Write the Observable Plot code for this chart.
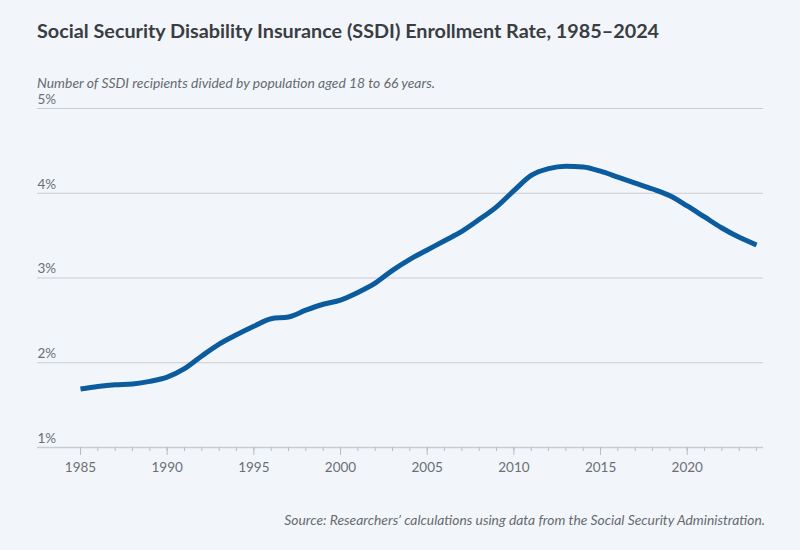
<!DOCTYPE html>
<html>
<head>
<meta charset="utf-8">
<script src="https://cdn.jsdelivr.net/npm/d3@7"></script>
<script src="https://cdn.jsdelivr.net/npm/@observablehq/plot@0.6"></script>
<style>
  html, body { margin: 0; padding: 0; background: #f2f6fa; }
  body { width: 800px; height: 550px; position: relative; overflow: hidden; font-family: Lato, "Noto Sans", sans-serif; }
  #title { position: absolute; left: 37px; top: 18px; font-size: 19.8px; font-weight: 700; color: #3a3d42; white-space: nowrap; }
  #subtitle { position: absolute; left: 37px; top: 74px; font-size: 13.9px; font-style: italic; color: #666a70; white-space: nowrap; }
  #caption { position: absolute; right: 35px; top: 511px; font-size: 13.85px; font-style: italic; color: #666a70; white-space: nowrap; }
  #chart { position: absolute; left: 0; top: 90px; }
</style>
</head>
<body>
<div id="title">Social Security Disability Insurance (SSDI) Enrollment Rate, 1985–2024</div>
<div id="subtitle">Number of SSDI recipients divided by population aged 18 to 66 years.</div>
<div id="chart"></div>
<div id="caption">Source: Researchers’ calculations using data from the Social Security Administration.</div>
<script>
const years = d3.range(1985, 2025);
const rates = [
  1.69, 1.72, 1.74, 1.75, 1.78, 1.83, 1.93, 2.08, 2.22, 2.33,
  2.43, 2.52, 2.54, 2.62, 2.69, 2.74, 2.83, 2.94, 3.09, 3.22,
  3.33, 3.44, 3.55, 3.69, 3.84, 4.03, 4.21, 4.29, 4.32, 4.31,
  4.26, 4.19, 4.12, 4.05, 3.97, 3.85, 3.72, 3.59, 3.48, 3.39
];
const yTicks = [1, 2, 3, 4, 5];
const majorYears = [1985, 1990, 1995, 2000, 2005, 2010, 2015, 2020];

const data = years.map((year, i) => ({year, rate: rates[i]}));
const xMin = 1982.52, xMax = 2024.4;

const plot = Plot.plot({
  width: 800,
  height: 400,
  marginLeft: 37,
  marginRight: 37,
  marginTop: 18,
  marginBottom: 43,
  style: {background: "transparent", fontFamily: "Lato, 'Noto Sans', sans-serif", fontSize: "13.5px", color: "#6b6f75"},
  x: {domain: [xMin, xMax], axis: null},
  y: {domain: [1, 5], axis: null},
  marks: [
    Plot.ruleY(yTicks.slice(1), {stroke: "#c9ccd0", strokeWidth: 1}),
    Plot.ruleY([1], {stroke: "#c9ccd0", strokeWidth: 1.5}),
    Plot.text(yTicks, {x: xMin, y: d => d, text: d => d + "%", textAnchor: "start", dy: -9, fill: "#6b6f75", fontSize: 13.5}),
    Plot.axisX({ticks: years, tickSize: 4, tickFormat: () => "", label: null, stroke: "#b9bcc0"}),
    Plot.axisX({ticks: majorYears, tickSize: 8, tickPadding: 7, tickFormat: d => String(d), label: null, stroke: "#b9bcc0", fill: "#6b6f75", fontSize: 13.5}),
    Plot.line(data, {x: "year", y: "rate", stroke: "#0a5c9e", strokeWidth: 5, curve: "monotone-x", strokeLinecap: "butt", strokeLinejoin: "round"})
  ]
});
document.getElementById("chart").appendChild(plot);
</script>
</body>
</html>
